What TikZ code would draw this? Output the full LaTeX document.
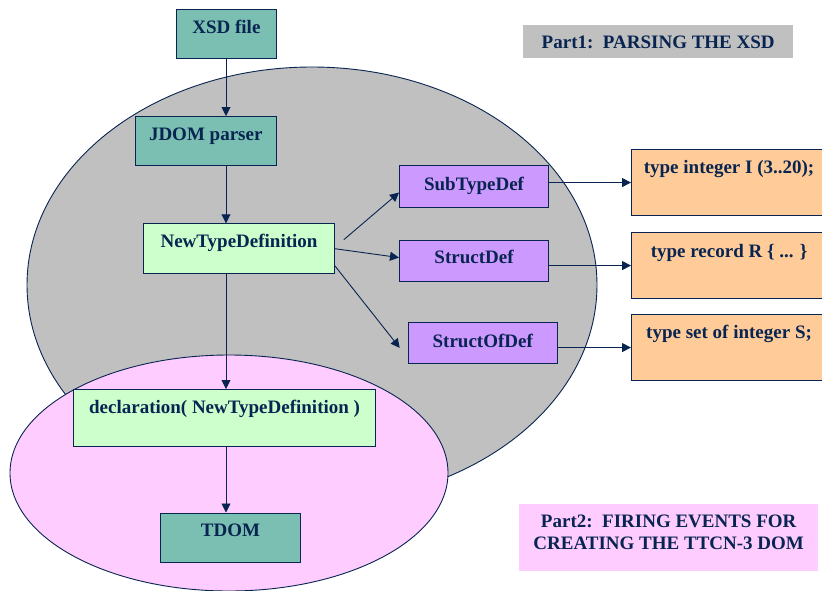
\documentclass[tikz,border=0pt]{standalone}
\usepackage{fontspec}
\setmainfont{Liberation Serif}
\usetikzlibrary{arrows.meta,calc}
\definecolor{navy}{RGB}{8,36,80}
\definecolor{tealbox}{RGB}{123,191,178}
\definecolor{greenbox}{RGB}{204,255,204}
\definecolor{purplebox}{RGB}{204,153,255}
\definecolor{orangebox}{RGB}{255,204,153}
\definecolor{grayfill}{RGB}{192,192,192}
\definecolor{pinkfill}{RGB}{255,204,255}
\tikzset{
  bx/.style={draw=navy, line width=1.1pt, inner xsep=0pt, inner ysep=0pt,
    anchor=north west, text=navy, font=\fontsize{19}{22}\selectfont\bfseries},
  lbl/.style={inner xsep=0pt, inner ysep=0pt, anchor=north west, text=navy,
    font=\fontsize{19}{22}\selectfont\bfseries},
  arr/.style={draw=navy, line width=0.9pt, -{Triangle[length=9pt,width=9pt]}},
  region/.style={draw=navy, line width=0.9pt}
}
\begin{document}
\begin{tikzpicture}[x=1pt,y=-1pt]
\useasboundingbox (0,0) rectangle (822,590);
\clip (0,0) rectangle (822,590);
% regions
\path[region, fill=grayfill] (312,285) ellipse [x radius=285pt, y radius=218pt];
\path[region, fill=pinkfill] (229,473) ellipse [x radius=219pt, y radius=118pt];
% labels
\node[lbl, fill=grayfill, minimum width=270pt, text height=23pt, text depth=10pt] (p1) at (523,25) {Part1:\ \ PARSING THE XSD};
\node[lbl, fill=pinkfill, minimum width=299pt, text height=23pt, text depth=44pt] (p2) at (519,504)
  {\vtop{\hbox to 299pt{\hfil Part2:\ \ FIRING EVENTS FOR\hfil}\hbox to 299pt{\hfil CREATING THE TTCN-3 DOM\hfil}}};
% boxes
\node[bx, fill=tealbox, minimum width=99.7pt, text height=24pt, text depth=25pt] (xsd) at (176,9.3) {XSD file};
\node[bx, fill=tealbox, minimum width=141pt, text height=24pt, text depth=25.3pt] (jdom) at (134.7,116) {JDOM parser};
\node[bx, fill=greenbox, minimum width=190.4pt, text height=23.4pt, text depth=26.3pt] (ntd) at (143.3,223.3) {NewTypeDefinition};
\node[bx, fill=purplebox, minimum width=149pt, text height=25pt, text depth=17pt] (sub) at (399,165) {SubTypeDef};
\node[bx, fill=purplebox, minimum width=149pt, text height=23pt, text depth=18pt] (struct) at (399,240) {StructDef};
\node[bx, fill=purplebox, minimum width=149pt, text height=24.7pt, text depth=16.3pt] (sof) at (407.7,322.3) {StructOfDef};
\node[bx, fill=orangebox, minimum width=195pt, text height=24pt, text depth=42pt] (o1) at (631,149) {type integer I (3..20);};
\node[bx, fill=orangebox, minimum width=195pt, text height=25pt, text depth=41pt] (o2) at (631,232) {type record R \{ ... \}};
\node[bx, fill=orangebox, minimum width=195pt, text height=24pt, text depth=42pt] (o3) at (631,314) {type set of integer S;};
\node[bx, fill=greenbox, minimum width=302pt, text height=24pt, text depth=33pt] (decl) at (73,389) {declaration( NewTypeDefinition )};
\node[bx, fill=tealbox, minimum width=140pt, text height=23.5pt, text depth=25.5pt] (tdom) at (160,512.5) {TDOM};
% connectors
\coordinate (spine) at (226,0);
\draw[arr] (xsd.south -| spine) -- (jdom.north -| spine);
\draw[arr] (jdom.south -| spine) -- (ntd.north -| spine);
\draw[arr] (ntd.south -| spine) -- (decl.north -| spine);
\draw[arr] (decl.south -| spine) -- (tdom.north -| spine);
\draw[arr] ($(ntd.east)+(9,-9)$) -- ($(sub.west)+(0,6)$);
\draw[arr] (ntd.east) -- ($(struct.west)+(0,-3.5)$);
\draw[arr] ($(ntd.east)+(0,17)$) -- ($(sof.west)+(-8,4.5)$);
\draw[arr] (o1.west -| sub.east) -- (o1.west);
\draw[arr] (o2.west -| struct.east) -- (o2.west);
\draw[arr] (o3.west -| sof.east) -- (o3.west);
\end{tikzpicture}
\end{document}
